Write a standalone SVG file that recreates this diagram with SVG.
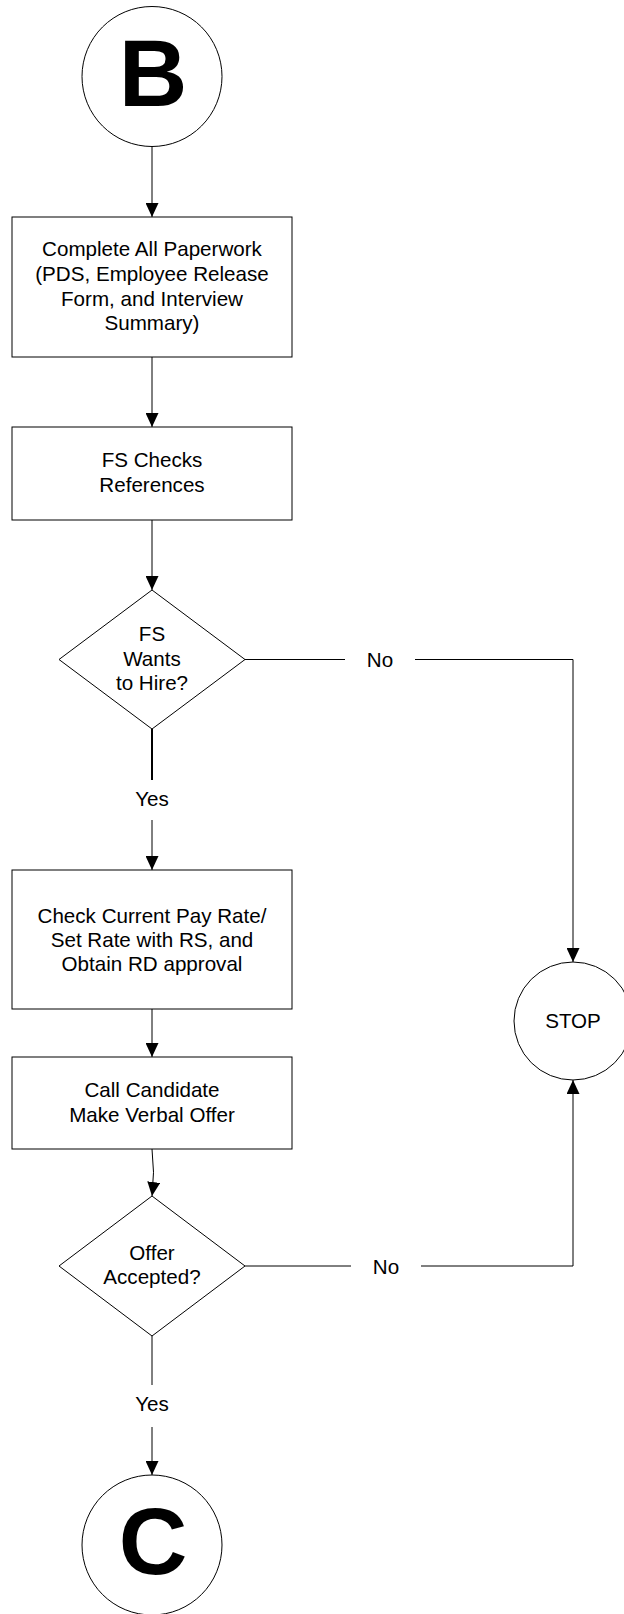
<svg xmlns="http://www.w3.org/2000/svg" width="624" height="1614" viewBox="0 0 624 1614">
<style>
.shape{fill:#fff;stroke:#000;stroke-width:1}
.conn{fill:none;stroke:#000;stroke-width:1}
.thick{stroke-width:2}
.t{font-family:"Liberation Sans",Arial,sans-serif;font-size:20.6px;fill:#000;text-anchor:middle}
.big{font-family:"Liberation Sans",Arial,sans-serif;font-size:95px;font-weight:bold;fill:#000;text-anchor:middle}
</style>
<defs>
<marker id="arr" markerUnits="userSpaceOnUse" viewBox="0 0 14 13" refX="14" refY="6.5" markerWidth="14" markerHeight="13" orient="auto">
<path d="M0,0 L14,6.5 L0,13 z" fill="#000"/>
</marker>
</defs>
<rect width="624" height="1614" fill="#fff"/>
<g id="connectors">
<path class="conn" d="M152,146 V217" marker-end="url(#arr)"/>
<path class="conn" d="M152,357 V427" marker-end="url(#arr)"/>
<path class="conn" d="M152,520 V590" marker-end="url(#arr)"/>
<path class="conn thick" d="M152,729 V780"/>
<text class="t" x="152" y="806">Yes</text>
<path class="conn" d="M152,820 V870" marker-end="url(#arr)"/>
<path class="conn" d="M152,1009 V1057" marker-end="url(#arr)"/>
<path class="conn" d="M152,1149 Q155,1172 152,1196" marker-end="url(#arr)"/>
<path class="conn" d="M245,659.5 H345"/>
<text class="t" x="380" y="667">No</text>
<path class="conn" d="M415,659.5 H573 V962" marker-end="url(#arr)"/>
<path class="conn" d="M245,1266 H351"/>
<text class="t" x="386" y="1273.5">No</text>
<path class="conn" d="M421,1266 H573 V1080" marker-end="url(#arr)"/>
<path class="conn" d="M152,1336 V1385"/>
<text class="t" x="152" y="1411">Yes</text>
<path class="conn" d="M152,1427 V1475" marker-end="url(#arr)"/>
</g>
<g id="nodeB">
<circle class="shape" cx="152" cy="76.5" r="70"/>
<text class="big" x="153" y="106">B</text>
</g>
<g id="box1">
<rect class="shape" x="12" y="217" width="280" height="140"/>
<text class="t" x="152" y="256">Complete All Paperwork</text>
<text class="t" x="152" y="281">(PDS, Employee Release</text>
<text class="t" x="152" y="306">Form, and Interview</text>
<text class="t" x="152" y="330">Summary)</text>
</g>
<g id="box2">
<rect class="shape" x="12" y="427" width="280" height="93"/>
<text class="t" x="152" y="467">FS Checks</text>
<text class="t" x="152" y="492">References</text>
</g>
<g id="decision1">
<polygon class="shape" points="152,590 245,659.5 152,729 59,659.5"/>
<text class="t" x="152" y="641">FS</text>
<text class="t" x="152" y="666">Wants</text>
<text class="t" x="152" y="690">to Hire?</text>
</g>
<g id="box3">
<rect class="shape" x="12" y="870" width="280" height="139"/>
<text class="t" x="152" y="923">Check Current Pay Rate/</text>
<text class="t" x="152" y="947">Set Rate with RS, and</text>
<text class="t" x="152" y="971">Obtain RD approval</text>
</g>
<g id="box4">
<rect class="shape" x="12" y="1057" width="280" height="92"/>
<text class="t" x="152" y="1097">Call Candidate</text>
<text class="t" x="152" y="1122">Make Verbal Offer</text>
</g>
<g id="decision2">
<polygon class="shape" points="152,1196 245,1266 152,1336 59,1266"/>
<text class="t" x="152" y="1260">Offer</text>
<text class="t" x="152" y="1284">Accepted?</text>
</g>
<g id="stop">
<circle class="shape" cx="573" cy="1021" r="59"/>
<text class="t" x="573" y="1028">STOP</text>
</g>
<g id="nodeC">
<circle class="shape" cx="152" cy="1545" r="70"/>
<text class="big" x="153" y="1574">C</text>
</g>
</svg>
